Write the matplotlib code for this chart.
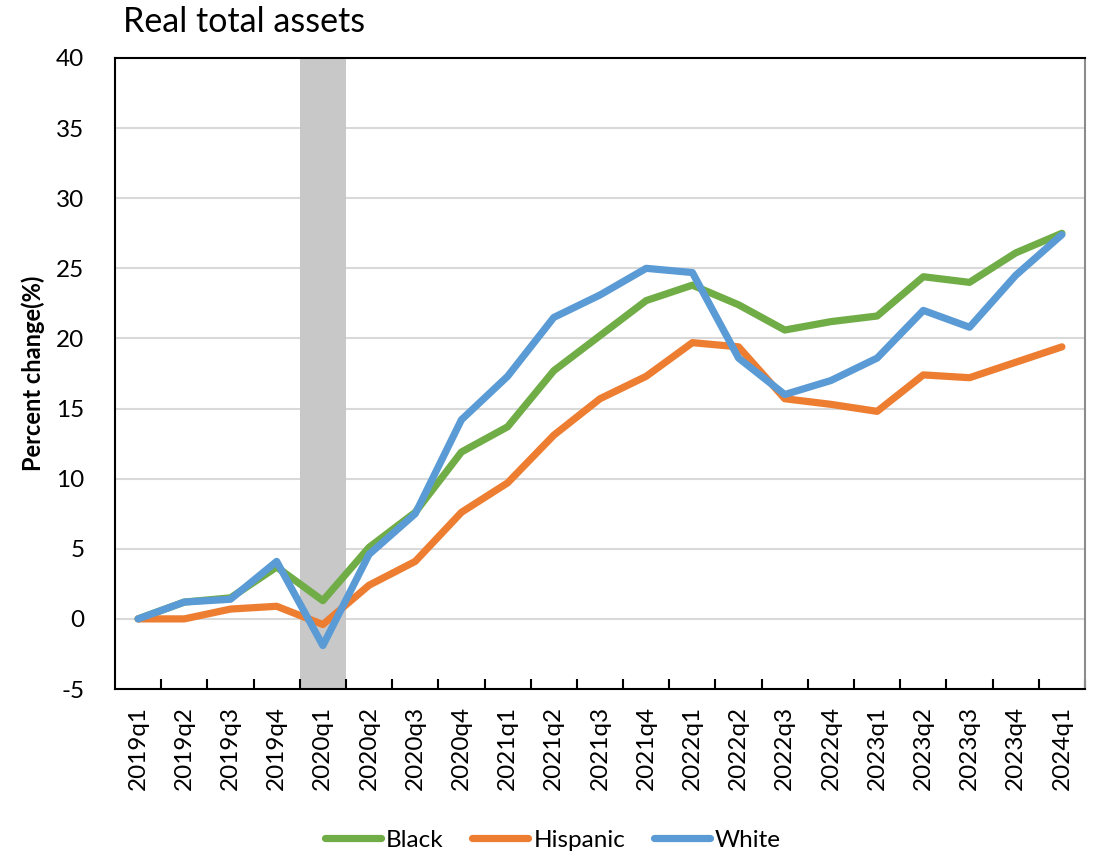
import matplotlib
matplotlib.use("Agg")
import matplotlib.pyplot as plt
from matplotlib.ticker import FixedLocator, NullFormatter

plt.rcParams['font.family'] = ['Lato', 'DejaVu Sans']

quarters = ["2019q1", "2019q2", "2019q3", "2019q4", "2020q1", "2020q2", "2020q3",
            "2020q4", "2021q1", "2021q2", "2021q3", "2021q4", "2022q1", "2022q2",
            "2022q3", "2022q4", "2023q1", "2023q2", "2023q3", "2023q4", "2024q1"]
black = [0.0, 1.2, 1.5, 3.7, 1.3, 5.1, 7.6, 11.9, 13.7, 17.7, 20.2, 22.7, 23.8, 22.4,
         20.6, 21.2, 21.6, 24.4, 24.0, 26.1, 27.5]
hispanic = [0.0, 0.0, 0.7, 0.9, -0.4, 2.4, 4.1, 7.6, 9.7, 13.1, 15.7, 17.3, 19.7, 19.4,
            15.7, 15.3, 14.8, 17.4, 17.2, 18.3, 19.4]
white = [0.0, 1.2, 1.4, 4.1, -1.9, 4.6, 7.5, 14.2, 17.3, 21.5, 23.1, 25.0, 24.7, 18.6,
         16.0, 17.0, 18.6, 22.0, 20.8, 24.5, 27.4]
recession = "2020q1"
yticks = [-5, 0, 5, 10, 15, 20, 25, 30, 35, 40]

fig = plt.figure(figsize=(11.02, 8.55), dpi=100)
ax = fig.add_axes([115/1102, 1-689/855, (1085-115)/1102, (689-58)/855])

x = list(range(len(quarters)))
ri = quarters.index(recession)
ax.axvspan(ri - 0.5, ri + 0.5, color="#c8c8c8", zorder=1, lw=0)

for y in yticks[1:-1]:
    ax.axhline(y, color="#d9d9d9", lw=1.5, zorder=0)

ax.plot(x, black, color="#70ad47", lw=5.2, label="Black", zorder=3, solid_joinstyle="round", solid_capstyle="round")
ax.plot(x, hispanic, color="#ed7d31", lw=5.2, label="Hispanic", zorder=3, solid_joinstyle="round", solid_capstyle="round")
ax.plot(x, white, color="#5b9bd5", lw=5.2, label="White", zorder=4, solid_joinstyle="round", solid_capstyle="round")

ax.set_xlim(-0.5, len(quarters) - 0.5)
ax.set_ylim(-5, 40)
ax.set_yticks(yticks)
ax.set_yticklabels([str(v) for v in yticks], fontsize=17.5)
ax.tick_params(axis="y", length=0, pad=22)
ax.set_xticks(x)
ax.set_xticklabels(quarters, rotation=90, fontsize=17.5)
ax.tick_params(axis="x", which="major", length=0, pad=12)
ax.xaxis.set_minor_locator(FixedLocator([i + 0.5 for i in range(len(quarters))]))
ax.xaxis.set_minor_formatter(NullFormatter())
ax.tick_params(axis="x", which="minor", direction="in", length=7, width=1.5, color="black")

for s in ["left", "top", "bottom"]:
    ax.spines[s].set_color("black")
    ax.spines[s].set_linewidth(1.5)
ax.spines["right"].set_color("#8c8c8c")
ax.spines["right"].set_linewidth(1.5)

ax.set_ylabel("Percent change(%)", fontsize=17, fontweight="bold")
ax.yaxis.set_label_coords(-0.072, 0.5)

fig.text(123/1102, 1-22/855, "Real total assets", fontsize=24.5, ha="left", va="center")

fig.legend(loc="center", bbox_to_anchor=(553/1102, 1-840/855), ncol=3, frameon=False,
           fontsize=17.5, handlelength=2.3, handletextpad=0.2, columnspacing=1.2)

fig.savefig("out.png", dpi=100)
